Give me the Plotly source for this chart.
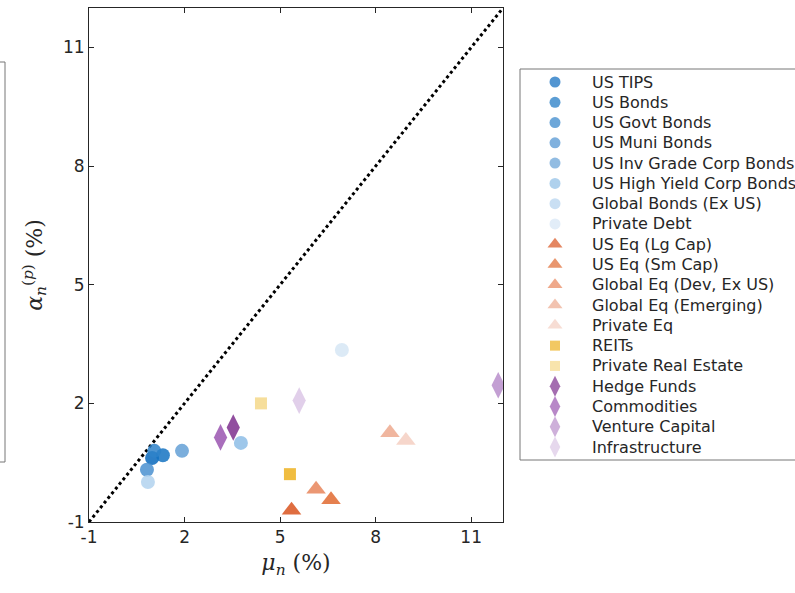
import plotly.graph_objects as go

# Asset classes: mean return (mu_n, %) vs. alpha_n^(p) (%)
assets = [
    "US TIPS", "US Bonds", "US Govt Bonds", "US Muni Bonds",
    "US Inv Grade Corp Bonds", "US High Yield Corp Bonds",
    "Global Bonds (Ex US)", "Private Debt",
    "US Eq (Lg Cap)", "US Eq (Sm Cap)", "Global Eq (Dev, Ex US)",
    "Global Eq (Emerging)", "Private Eq",
    "REITs", "Private Real Estate",
    "Hedge Funds", "Commodities", "Venture Capital", "Infrastructure",
]
mu = [0.98, 1.32, 1.05, 0.82, 1.92, 3.77, 0.85, 6.94,
      5.36, 6.60, 6.13, 8.45, 8.95,
      5.31, 4.40,
      3.53, 3.13, 11.85, 5.60]
alpha = [0.62, 0.69, 0.80, 0.32, 0.80, 1.00, 0.01, 3.35,
         -0.70, -0.44, -0.17, 1.26, 1.06,
         0.21, 2.00,
         1.39, 1.14, 2.46, 2.07]
colors = [
    "#0868bd", "#1573c2", "#2f82c9", "#4a90d0",
    "#64a0d6", "#8dbde6", "#b2d2ee", "#d6e6f5",
    "#d9531e", "#e06a30", "#e8855a", "#eda98e", "#f4cfc2",
    "#edb120", "#f5d889",
    "#7e2f8e", "#9a55b0", "#b98ecb", "#dcc7e6",
]
symbols = (["circle"] * 8 + ["triangle-up"] * 5 + ["square"] * 2
           + ["diamond-tall"] * 4)
sizes = [14] * 8 + [17] * 5 + [12] * 2 + [19] * 4
legend_sizes = [11] * 8 + [13] * 5 + [10] * 2 + [15] * 4

axis_range = [-1, 12]
tick_vals = [-1, 2, 5, 8, 11]

# Figure geometry (pixels)
W, H = 795, 593
ML, MT, MB = 89, 8, 71
PLOT_W = W - ML          # paper width (right margin is zero)
PLOT_H = H - MT - MB
AX_RIGHT = 503           # right edge of the scatter axes
LEG_LEFT, LEG_TOP, LEG_BOTTOM = 520, 69, 460
LEG_ROW0, LEG_STEP = 82, 20.28
LEG_MARK_X, LEG_TEXT_X = 555, 590


def px_x(p):
    return (p - ML) / PLOT_W


def px_y(p):
    return (H - MB - p) / PLOT_H


fig = go.Figure()

# 45-degree reference line
fig.add_trace(go.Scatter(
    x=axis_range, y=axis_range, mode="lines",
    line=dict(color="black", width=3, dash="dot"),
    showlegend=False, hoverinfo="skip",
))

for name, x, y, c, s, sz in zip(assets, mu, alpha, colors, symbols, sizes):
    fig.add_trace(go.Scatter(
        x=[x], y=[y], mode="markers", name=name, showlegend=False,
        marker=dict(color=c, symbol=s, size=sz, opacity=0.85,
                    line=dict(width=0)),
    ))

# Legend drawn on a pixel-scaled helper axis pair
rows = [LEG_ROW0 + i * LEG_STEP for i in range(len(assets))]
fig.add_trace(go.Scatter(
    x=[LEG_MARK_X] * len(assets), y=rows, mode="markers",
    xaxis="x2", yaxis="y2", showlegend=False, hoverinfo="skip",
    cliponaxis=False,
    marker=dict(color=colors, symbol=symbols, size=legend_sizes,
                line=dict(width=0)),
))
for name, yy in zip(assets, rows):
    fig.add_annotation(
        x=LEG_TEXT_X, y=yy, xref="x2", yref="y2", text=name,
        showarrow=False, xanchor="left", yanchor="middle",
        font=dict(family="DejaVu Sans", size=16, color="#262626"),
    )

axis_style = dict(
    range=axis_range, tickvals=tick_vals, ticktext=[str(v) for v in tick_vals],
    ticks="inside", ticklen=5, tickwidth=1, tickcolor="#262626",
    showline=True, linecolor="#262626", linewidth=1, mirror="allticks",
    showgrid=False, zeroline=False,
    tickfont=dict(family="DejaVu Sans", size=17, color="#262626"),
)

fig.update_layout(
    xaxis=dict(
        **axis_style, domain=[0, px_x(AX_RIGHT)],
        title=dict(text="<i>μ</i><sub><i>n</i></sub> (%)",
                   font=dict(family="DejaVu Serif", size=22, color="#262626"),
                   standoff=8),
    ),
    yaxis=dict(
        **axis_style,
        title=dict(text="<i>α</i><sub><i>n</i></sub><sup>(<i>p</i>)</sup> (%)",
                   font=dict(family="DejaVu Serif", size=22, color="#262626"),
                   standoff=14),
    ),
    xaxis2=dict(domain=[px_x(LEG_LEFT), 1], range=[LEG_LEFT, W],
                anchor="y2", visible=False, fixedrange=True),
    yaxis2=dict(domain=[0, 1], range=[H - MB, MT], anchor="x2",
                visible=False, fixedrange=True),
    shapes=[
        # legend frame (extends past the right edge)
        dict(type="rect", xref="paper", yref="paper",
             x0=px_x(LEG_LEFT), x1=px_x(W + 30),
             y0=px_y(LEG_BOTTOM), y1=px_y(LEG_TOP),
             line=dict(color="#777777", width=1), layer="below"),
        # partially visible frame of a neighbouring legend on the left
        dict(type="rect", xref="paper", yref="paper",
             x0=px_x(-60), x1=px_x(5), y0=px_y(462), y1=px_y(62),
             line=dict(color="#777777", width=1), layer="above"),
    ],
    width=W, height=H,
    margin=dict(l=ML, r=0, t=MT, b=MB),
    paper_bgcolor="white", plot_bgcolor="white",
    showlegend=False,
)

fig.write_html("out.html")
